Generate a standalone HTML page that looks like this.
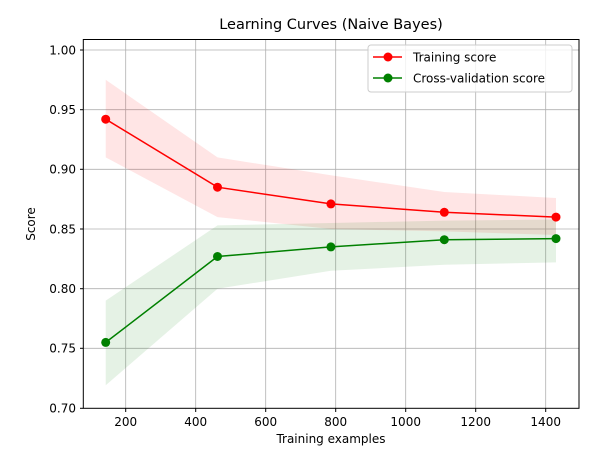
<!DOCTYPE html>
<html><head><style>body{margin:0;background:#fff}svg{display:block}text{font-family:"DejaVu Sans","Liberation Sans",sans-serif;fill:#000}</style></head><body>
<svg width="605" height="459" viewBox="0 0 605 459" xmlns="http://www.w3.org/2000/svg">
<rect width="605" height="459" fill="#fff"/>
<g stroke="#b0b0b0" stroke-width="0.8">
<line x1="125.7" y1="39.5" x2="125.7" y2="408.3"/><line x1="195.7" y1="39.5" x2="195.7" y2="408.3"/><line x1="265.7" y1="39.5" x2="265.7" y2="408.3"/><line x1="335.7" y1="39.5" x2="335.7" y2="408.3"/><line x1="405.7" y1="39.5" x2="405.7" y2="408.3"/><line x1="475.7" y1="39.5" x2="475.7" y2="408.3"/><line x1="545.7" y1="39.5" x2="545.7" y2="408.3"/>
<line x1="83.3" y1="348.3" x2="579" y2="348.3"/><line x1="83.3" y1="288.7" x2="579" y2="288.7"/><line x1="83.3" y1="229" x2="579" y2="229"/><line x1="83.3" y1="169.3" x2="579" y2="169.3"/><line x1="83.3" y1="109.7" x2="579" y2="109.7"/><line x1="83.3" y1="50" x2="579" y2="50"/>
</g>
<polygon points="105.7,79.8 217.5,157.4 330.9,175.3 444.3,192 556,198 556,235 444.3,231.4 330.9,229 217.5,217.1 105.7,157.4" fill="red" fill-opacity="0.1"/>
<polygon points="105.7,300.6 217.5,225.4 330.9,223 444.3,220.6 556,219.5 556,262.4 444.3,264.8 330.9,270.8 217.5,288.7 105.7,385.3" fill="green" fill-opacity="0.1"/>
<polyline points="105.7,119.2 217.5,187.2 330.9,203.9 444.3,212.3 556,217.1" fill="none" stroke="red" stroke-width="1.5"/>
<polyline points="105.7,342.4 217.5,256.5 330.9,246.9 444.3,239.7 556,238.6" fill="none" stroke="green" stroke-width="1.5"/>
<g fill="red"><circle cx="105.7" cy="119.2" r="4.5"/><circle cx="217.5" cy="187.2" r="4.5"/><circle cx="330.9" cy="203.9" r="4.5"/><circle cx="444.3" cy="212.3" r="4.5"/><circle cx="556" cy="217.1" r="4.5"/></g>
<g fill="green"><circle cx="105.7" cy="342.4" r="4.5"/><circle cx="217.5" cy="256.5" r="4.5"/><circle cx="330.9" cy="246.9" r="4.5"/><circle cx="444.3" cy="239.7" r="4.5"/><circle cx="556" cy="238.6" r="4.5"/></g>
<rect x="83.3" y="39.5" width="495.7" height="368.8" fill="none" stroke="#000" stroke-width="1"/>
<g stroke="#000" stroke-width="1">
<line x1="125.7" y1="408.3" x2="125.7" y2="412"/><line x1="195.7" y1="408.3" x2="195.7" y2="412"/><line x1="265.7" y1="408.3" x2="265.7" y2="412"/><line x1="335.7" y1="408.3" x2="335.7" y2="412"/><line x1="405.7" y1="408.3" x2="405.7" y2="412"/><line x1="475.7" y1="408.3" x2="475.7" y2="412"/><line x1="545.7" y1="408.3" x2="545.7" y2="412"/>
<line x1="80" y1="408.3" x2="83.3" y2="408.3"/><line x1="80" y1="348.3" x2="83.3" y2="348.3"/><line x1="80" y1="288.7" x2="83.3" y2="288.7"/><line x1="80" y1="229" x2="83.3" y2="229"/><line x1="80" y1="169.3" x2="83.3" y2="169.3"/><line x1="80" y1="109.7" x2="83.3" y2="109.7"/><line x1="80" y1="50" x2="83.3" y2="50"/>
</g>
<g font-size="12" text-anchor="middle">
<text x="125.7" y="426">200</text><text x="195.7" y="426">400</text><text x="265.7" y="426">600</text><text x="335.7" y="426">800</text><text x="405.7" y="426">1000</text><text x="475.7" y="426">1200</text><text x="545.7" y="426">1400</text>
<text x="331" y="443">Training examples</text>
</g>
<g font-size="12" text-anchor="end">
<text x="76" y="412.5">0.70</text><text x="76" y="352.5">0.75</text><text x="76" y="293">0.80</text><text x="76" y="233.3">0.85</text><text x="76" y="173.6">0.90</text><text x="76" y="114">0.95</text><text x="76" y="54.3">1.00</text>
</g>
<text transform="translate(35,224) rotate(-90)" font-size="12" text-anchor="middle">Score</text>
<text x="331" y="29" font-size="14.5" text-anchor="middle">Learning Curves (Naive Bayes)</text>
<rect x="368" y="45" width="204" height="47" rx="3" fill="#fff" fill-opacity="0.8" stroke="#ccc"/>
<line x1="373" y1="57" x2="402" y2="57" stroke="red" stroke-width="1.5"/><circle cx="388" cy="57" r="4.5" fill="red"/>
<line x1="373" y1="78" x2="402" y2="78" stroke="green" stroke-width="1.5"/><circle cx="388" cy="78" r="4.5" fill="green"/>
<text x="413" y="61.5" font-size="12">Training score</text>
<text x="413" y="82.5" font-size="12">Cross-validation score</text>
</svg>
</body></html>
